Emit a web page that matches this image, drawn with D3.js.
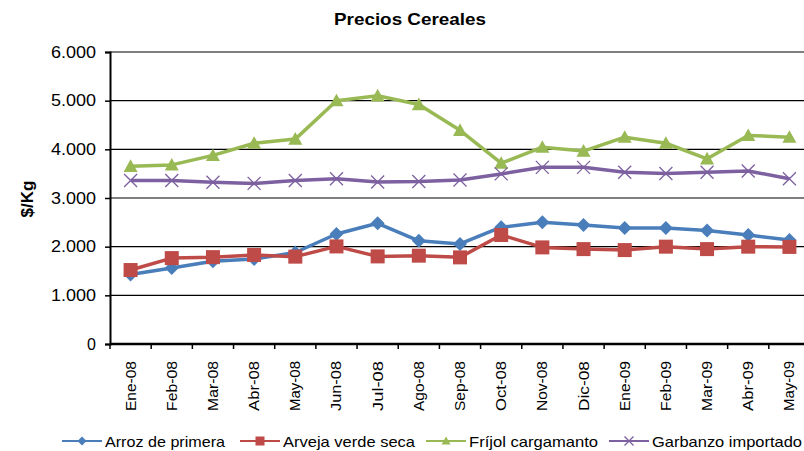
<!doctype html>
<html>
<head>
<meta charset="utf-8" />
<title>Precios Cereales</title>
<script src="https://cdnjs.cloudflare.com/ajax/libs/d3/7.8.5/d3.min.js"></script>
<style>
	body { margin: 0; background: #fff; }
	svg { display: block; font-family: "Liberation Sans", Arial, sans-serif; }
</style>
</head>
<body>
<svg id="chart" width="804" height="451"></svg>
<script>
const months = ['Ene-08','Feb-08','Mar-08','Abr-08','May-08','Jun-08','Jul-08','Ago-08','Sep-08','Oct-08','Nov-08','Dic-08','Ene-09','Feb-09','Mar-09','Abr-09','May-09'];
const arroz = [1430,1560,1700,1745,1880,2260,2480,2120,2055,2400,2500,2445,2385,2385,2330,2240,2135];
const arveja = [1520,1765,1785,1830,1795,2005,1800,1815,1780,2240,1985,1950,1930,2000,1950,2000,1995];
const frijol = [3650,3680,3875,4125,4210,5000,5100,4920,4390,3715,4045,3965,4250,4125,3805,4285,4250];
const garbanzo = [3360,3360,3325,3300,3360,3395,3330,3340,3370,3495,3630,3630,3530,3505,3530,3555,3395];
const yTicks = [0,1000,2000,3000,4000,5000,6000];

const series = [
	{ name: 'Arroz de primera', values: arroz, color: '#4a7ebb', marker: 'diamond', legendW: 120 },
	{ name: 'Arveja verde seca', values: arveja, color: '#be4b48', marker: 'square', legendW: 132 },
	{ name: 'Fríjol cargamanto', values: frijol, color: '#98b954', marker: 'triangle', legendW: 129 },
	{ name: 'Garbanzo importado', values: garbanzo, color: '#7d60a0', marker: 'cross', legendW: 150 }
];

const svg = d3.select('#chart');
const plotL = 110, plotR = 810, plotT = 52, plotB = 344;

const x = d3.scaleBand().domain(months).range([plotL, plotR]);
const y = d3.scaleLinear().domain([0, 6000]).range([plotB, plotT]);
const cx = d => x(d) + x.bandwidth() / 2;
const fmt = v => v === 0 ? '0' : d3.format(',')(v).replace(/,/g, '.');

// title
svg.append('text')
	.attr('x', 410).attr('y', 25)
	.attr('text-anchor', 'middle')
	.attr('font-size', 17).attr('font-weight', 'bold')
	.attr('textLength', 152).attr('lengthAdjust', 'spacingAndGlyphs')
	.text('Precios Cereales');

// y axis title
svg.append('text')
	.attr('transform', 'translate(33,199) rotate(-90)')
	.attr('text-anchor', 'middle')
	.attr('font-size', 17).attr('font-weight', 'bold')
	.text('$/Kg');

// gridlines
svg.append('g').selectAll('line')
	.data(yTicks.filter(t => t > 0))
	.join('line')
	.attr('x1', plotL).attr('x2', plotR)
	.attr('y1', d => y(d)).attr('y2', d => y(d))
	.attr('stroke', '#000').attr('stroke-width', 1.2);

// y axis
const yAxis = svg.append('g')
	.attr('transform', `translate(${plotL},0)`)
	.call(d3.axisLeft(y).tickValues(yTicks).tickFormat(fmt).tickSize(5).tickPadding(9));
yAxis.select('.domain').attr('stroke-width', 2);
yAxis.selectAll('.tick line').attr('stroke-width', 1.5);
yAxis.selectAll('.tick text')
	.attr('font-size', 16).attr('fill', '#000')
	.attr('font-family', '"Liberation Sans", Arial, sans-serif')
	.attr('textLength', d => d === 0 ? null : 45)
	.attr('lengthAdjust', 'spacingAndGlyphs');

// x axis
const xAxis = svg.append('g')
	.attr('transform', `translate(0,${plotB})`);
xAxis.append('line')
	.attr('x1', plotL).attr('x2', plotR)
	.attr('stroke', '#000').attr('stroke-width', 2.5);
xAxis.selectAll('line.tk')
	.data(months)
	.join('line')
	.attr('class', 'tk')
	.attr('x1', d => x(d)).attr('x2', d => x(d))
	.attr('y1', 0).attr('y2', 5)
	.attr('stroke', '#000').attr('stroke-width', 1.5);
xAxis.selectAll('text')
	.data(months)
	.join('text')
	.attr('transform', d => `translate(${cx(d) + 5},17) rotate(-90)`)
	.attr('text-anchor', 'end')
	.attr('font-size', 15)
	.attr('textLength', 50).attr('lengthAdjust', 'spacingAndGlyphs')
	.text(d => d);

// markers
function drawMarker(g, type, color, s) {
	if (type === 'diamond') {
		g.append('path').attr('d', `M0,${-s}L${s},0L0,${s}L${-s},0Z`).attr('fill', color);
	} else if (type === 'square') {
		g.append('rect').attr('x', -s).attr('y', -s).attr('width', 2 * s).attr('height', 2 * s).attr('fill', color);
	} else if (type === 'triangle') {
		g.append('path').attr('d', `M0,${-s}L${s},${s * 0.8}L${-s},${s * 0.8}Z`).attr('fill', color);
	} else {
		g.append('path').attr('d', `M${-s},${-s}L${s},${s}M${-s},${s}L${s},${-s}`)
			.attr('stroke', color).attr('stroke-width', 1.3).attr('fill', 'none');
	}
}

const line = d3.line().x((d, i) => cx(months[i])).y(d => y(d));
const plot = svg.append('g');
series.forEach(s => {
	plot.append('path')
		.datum(s.values)
		.attr('d', line)
		.attr('fill', 'none')
		.attr('stroke', s.color)
		.attr('stroke-width', 3.5)
		.attr('stroke-linejoin', 'round');
	const size = s.marker === 'diamond' ? 7 : s.marker === 'square' ? 7 : s.marker === 'triangle' ? 7 : 6.5;
	s.values.forEach((v, i) => {
		const g = plot.append('g').attr('transform', `translate(${cx(months[i])},${y(v)})`);
		drawMarker(g, s.marker, s.color, size);
	});
});

// legend
const legendX = [62, 240, 426, 609];
const legend = svg.append('g').attr('transform', 'translate(0,441)');
series.forEach((s, i) => {
	const g = legend.append('g').attr('transform', `translate(${legendX[i]},0)`);
	g.append('line').attr('x1', 0).attr('x2', 40).attr('stroke', s.color).attr('stroke-width', 2.2);
	const m = g.append('g').attr('transform', 'translate(20,0)');
	drawMarker(m, s.marker, s.color, 4.5);
	g.append('text')
		.attr('x', 43).attr('y', 5.5)
		.attr('font-size', 15)
		.attr('textLength', s.legendW).attr('lengthAdjust', 'spacingAndGlyphs')
		.text(s.name);
});
</script>
</body>
</html>
